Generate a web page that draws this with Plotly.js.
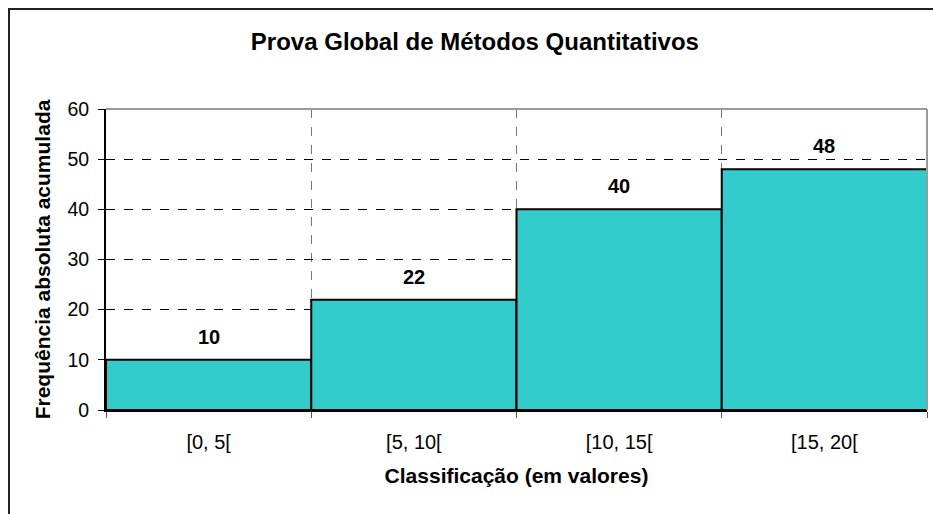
<!DOCTYPE html>
<html>
<head>
<meta charset="utf-8">
<script src="https://cdn.plot.ly/plotly-3.0.1.min.js"></script>
<style>
  html, body { margin: 0; padding: 0; background: #fff; }
  #wrap { position: relative; width: 933px; height: 514px; }
  #chart { width: 933px; height: 514px; }
  #frame { position: absolute; left: 8px; top: 8px; width: 925px; height: 506px;
           border-left: 2px solid #222; border-top: 2px solid #222; pointer-events: none; box-sizing: border-box; }
</style>
</head>
<body>
<div id="wrap">
  <div id="chart"></div>
  <div id="frame"></div>
</div>
<script>
const categories = ["[0, 5[", "[5, 10[", "[10, 15[", "[15, 20["];
const values = [10, 22, 40, 48];
const yTicks = [0, 10, 20, 30, 40, 50, 60];

const FONT = "Liberation Sans, Arial, sans-serif";

const trace = {
  type: "bar",
  x: categories,
  y: values,
  marker: { color: "#33CCCC", line: { color: "#000", width: 2 } },
  hoverinfo: "skip"
};

const annotations = categories.map((c, i) => ({
  x: c, y: values[i], xref: "x", yref: "y",
  text: "<b>" + values[i] + "</b>", showarrow: false,
  yanchor: "bottom", yshift: 10,
  font: { family: FONT, size: 20, color: "#000" }
}));

const layout = {
  width: 933, height: 514,
  margin: { l: 106, r: 6, t: 109, b: 104 },
  paper_bgcolor: "#fff", plot_bgcolor: "#fff",
  bargap: 0,
  showlegend: false,
  title: {
    text: "<b>Prova Global de Métodos Quantitativos</b>",
    font: { family: FONT, size: 24, color: "#000" },
    x: 0.509, xanchor: "center", xref: "container",
    y: 1 - 42 / 514, yanchor: "middle", yref: "container"
  },
  xaxis: {
    type: "category",
    tickson: "boundaries",
    ticks: "outside", ticklen: 6, tickcolor: "#555", tickwidth: 1,
    showline: true, linecolor: "#000", linewidth: 2,
    showgrid: true, gridcolor: "#777", griddash: "dash", gridwidth: 1,
    tickfont: { family: FONT, size: 20, color: "#000" },
    ticklabelstandoff: 13,
    title: { text: "<b>Classificação (em valores)</b>", font: { family: FONT, size: 21, color: "#000" }, standoff: 16 },
    zeroline: false
  },
  yaxis: {
    range: [0, 60],
    tickvals: yTicks,
    ticks: "outside", ticklen: 6, tickcolor: "#000", tickwidth: 1,
    showline: true, linecolor: "#000", linewidth: 2,
    showgrid: true, gridcolor: "#000", griddash: "dash", gridwidth: 1,
    tickfont: { family: FONT, size: 19.5, color: "#000" },
    ticklabelstandoff: 5,
    title: { text: "<b>Frequência absoluta acumulada</b>", font: { family: FONT, size: 21, color: "#000" }, standoff: 11 },
    zeroline: false
  },
  shapes: [
    { type: "line", xref: "paper", yref: "paper", x0: 0, x1: 1, y0: 1, y1: 1, line: { color: "#999", width: 2 } },
    { type: "line", xref: "paper", yref: "paper", x0: 1, x1: 1, y0: 0, y1: 1, line: { color: "#999", width: 2 } }
  ],
  annotations: annotations
};

Plotly.newPlot("chart", [trace], layout, { displayModeBar: false, staticPlot: true });
</script>
</body>
</html>
